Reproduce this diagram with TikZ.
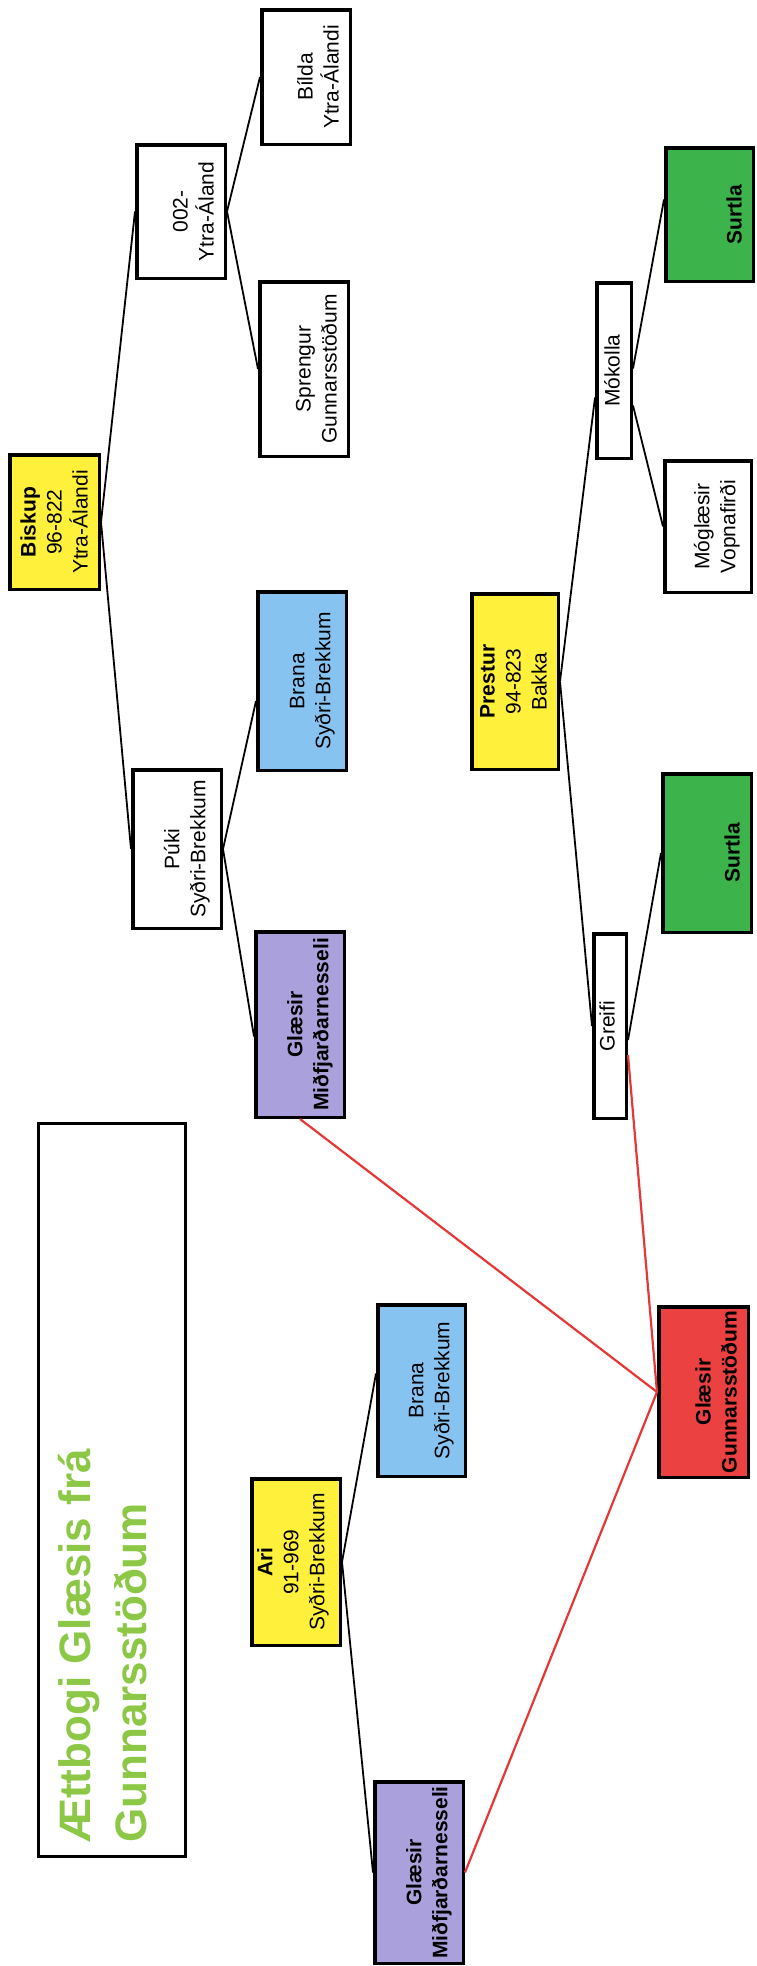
\documentclass[tikz,border=0pt]{standalone}
\usepackage{fontspec}
\setmainfont{Liberation Sans}
\usetikzlibrary{calc}
\definecolor{cyellow}{RGB}{255,240,60}
\definecolor{cblue}{RGB}{135,195,240}
\definecolor{cpurple}{RGB}{170,160,220}
\definecolor{cgreen}{RGB}{60,180,75}
\definecolor{cred}{RGB}{235,65,65}
\definecolor{credline}{RGB}{230,55,55}
\definecolor{ctitle}{RGB}{140,200,70}
\tikzset{
  box/.style={draw=black, line width=3.5pt, rectangle, inner sep=0pt},
  lbl/.style={rotate=90, align=center, inner sep=0pt, font=\fontsize{21}{26}\selectfont},
  conn/.style={line width=1.8pt, black},
  redline/.style={line width=2.2pt, credline},
  yel/.style={fill=cyellow},
  blu/.style={fill=cblue},
  pur/.style={fill=cpurple},
  grn/.style={fill=cgreen},
  rd/.style={fill=cred},
  wht/.style={fill=white},
}
\newcommand\famnode[7]{%
  \node[box,#6,minimum width=#4pt,minimum height=#5pt] (#1) at (#2,#3) {};
  \node[lbl,anchor=south] (#1t) at ([xshift=-13pt]#1.east) {#7};}
\begin{document}
\begin{tikzpicture}[x=1pt,y=-1pt]
\fill[white] (0,0) rectangle (756,1966);
\useasboundingbox (0,0) rectangle (756,1966);

% title
\node[box, line width=3pt, minimum width=147pt, minimum height=733pt] (title) at (112,1490) {};
\node[rotate=90, anchor=north west, align=left, inner sep=0pt, text=ctitle,
      font=\fontsize{44}{56}\selectfont\bfseries] (titletext) at (58,1843)
      {Ættbogi Glæsis frá\\Gunnarsstöðum};

% upper tree
\famnode{biskup}{54.5}{522}{89.5}{134.5}{yel}{\bfseries Biskup\\96-822\\Ytra-Álandi}
\famnode{aland}{181}{211.5}{88.5}{133.5}{wht}{002-\\Ytra-Áland}
\famnode{bilda}{306}{77}{88.5}{134.5}{wht}{Bílda\\Ytra-Álandi}
\famnode{sprengur}{304}{369}{88.5}{174.5}{wht}{Sprengur\\Gunnarsstöðum}
\famnode{branaA}{302}{681}{88.5}{178.5}{blu}{Brana\\Syðri-Brekkum}
\famnode{puki}{177}{849}{88.5}{158.5}{wht}{Púki\\Syðri-Brekkum}
\famnode{glmidA}{300}{1024.5}{88.5}{185.5}{pur}{\bfseries Glæsir\\\bfseries Miðfjarðarnesseli}

% right tree
\famnode{prestur}{515}{681.5}{86.5}{175.5}{yel}{\bfseries Prestur\\94-823\\Bakka}
\famnode{mokolla}{614}{370.5}{34.5}{175.5}{wht}{Mókolla}
\famnode{surtlaA}{709.5}{214.5}{87.5}{133.5}{grn}{\bfseries Surtla}
\famnode{moglaesir}{708}{526.5}{86.5}{131.5}{wht}{Móglæsir\\Vopnafirði}
\famnode{surtlaB}{707}{853}{88.5}{158.5}{grn}{\bfseries Surtla}
\famnode{greifi}{610}{1026}{32.5}{184.5}{wht}{Greifi}

% lower tree
\famnode{glgunn}{703.5}{1392}{89.5}{170.5}{rd}{\bfseries Glæsir\\\bfseries Gunnarsstöðum}
\famnode{ari}{296}{1562}{88.5}{166.5}{yel}{\bfseries Ari\\91-969\\Syðri-Brekkum}
\famnode{branaB}{421.5}{1390.5}{87.5}{171.5}{blu}{Brana\\Syðri-Brekkum}
\famnode{glmidB}{419}{1872.5}{88.5}{181.5}{pur}{\bfseries Glæsir\\\bfseries Miðfjarðarnesseli}

% black connectors
\draw[conn] (biskup.east) -- (aland.west);
\draw[conn] (biskup.east) -- (puki.west);
\draw[conn] (aland.east) -- (bilda.west);
\draw[conn] (aland.east) -- (sprengur.west);
\draw[conn] (puki.east) -- ([yshift=-20pt]branaA.west);
\draw[conn] (puki.east) -- ([yshift=-12pt]glmidA.west);
\draw[conn] (prestur.east) -- ([yshift=-27pt]mokolla.west);
\draw[conn] (prestur.east) -- (greifi.west);
\draw[conn] ([yshift=2pt]mokolla.east) -- ([yshift=15pt]surtlaA.west);
\draw[conn] ([yshift=-35pt]mokolla.east) -- (moglaesir.west);
\draw[conn] ([yshift=-14pt]greifi.east) -- (surtlaB.west);
\draw[conn] (ari.east) -- ([yshift=17pt]branaB.west);
\draw[conn] (ari.east) -- (glmidB.west);

% red connectors
\draw[redline] (glgunn.west) -- (glmidA.south);
\draw[redline] (glgunn.west) -- ([yshift=-29pt]greifi.east);
\draw[redline] (glgunn.west) -- (glmidB.east);
\end{tikzpicture}
\end{document}
